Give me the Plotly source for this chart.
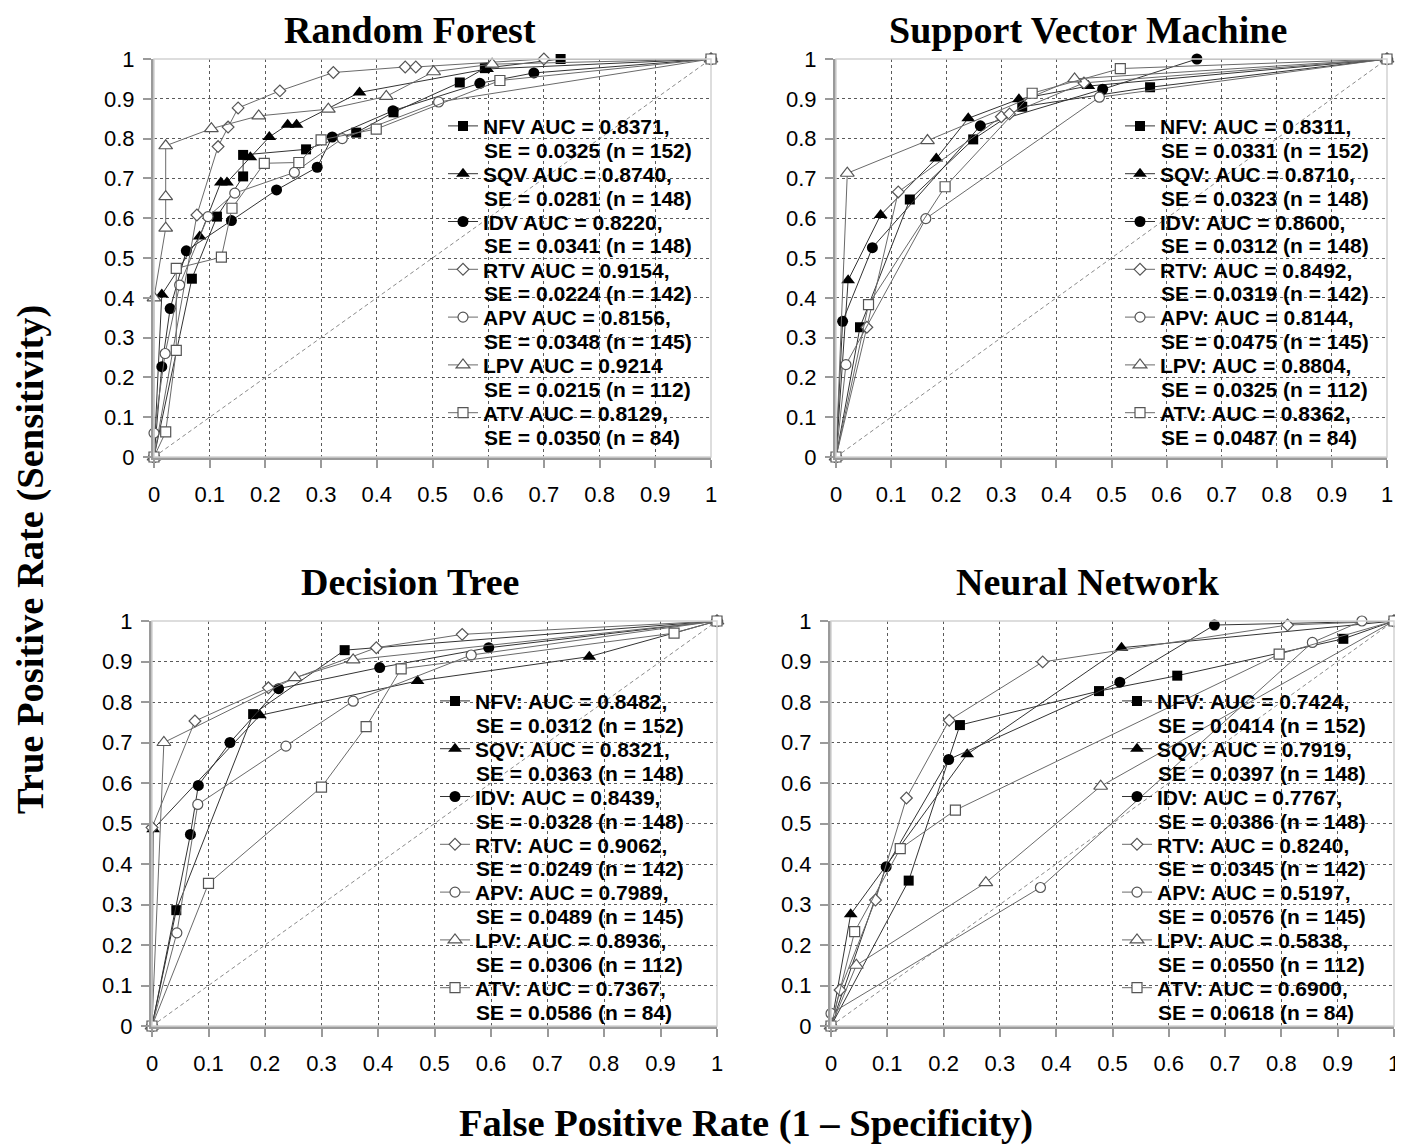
import plotly.graph_objects as go

# The page body has an 8px margin, so the figure is drawn from (8, 8)
OFF = 8
W, H = 1403 - OFF, 1148 - OFF

# ---------------- data ----------------
series_names = ["NFV", "SQV", "IDV", "RTV", "APV", "LPV", "ATV"]
chance_line = [0, 1]

# Random Forest
rf_fpr = {
    "NFV": [0, 0.068, 0.113, 0.16, 0.16, 0.273, 0.363, 0.43, 0.549, 0.594, 0.73, 1],
    "SQV": [0, 0.014, 0.082, 0.12, 0.131, 0.173, 0.207, 0.24, 0.256, 0.369, 0.598, 1],
    "IDV": [0, 0.014, 0.029, 0.058, 0.139, 0.22, 0.293, 0.32, 0.429, 0.585, 0.682, 1],
    "RTV": [0, 0.077, 0.115, 0.133, 0.151, 0.226, 0.322, 0.451, 0.47, 0.70, 1],
    "APV": [0, 0, 0.02, 0.046, 0.097, 0.145, 0.252, 0.338, 0.511, 1],
    "LPV": [0, 0, 0.021, 0.021, 0.021, 0.103, 0.188, 0.313, 0.417, 0.502, 0.607, 1],
    "ATV": [0, 0.021, 0.04, 0.04, 0.121, 0.14, 0.198, 0.26, 0.3, 0.399, 0.621, 1],
}
rf_tpr = {
    "NFV": [0, 0.448, 0.604, 0.705, 0.759, 0.773, 0.815, 0.866, 0.941, 0.977, 1.0, 1],
    "SQV": [0, 0.408, 0.554, 0.69, 0.69, 0.753, 0.804, 0.835, 0.835, 0.916, 0.975, 1],
    "IDV": [0, 0.227, 0.373, 0.518, 0.594, 0.671, 0.728, 0.804, 0.87, 0.939, 0.965, 1],
    "RTV": [0, 0.608, 0.78, 0.829, 0.877, 0.92, 0.966, 0.98, 0.98, 1.0, 1],
    "APV": [0, 0.06, 0.26, 0.432, 0.604, 0.663, 0.715, 0.8, 0.892, 1],
    "LPV": [0, 0.40, 0.575, 0.654, 0.782, 0.825, 0.857, 0.874, 0.906, 0.968, 0.987, 1],
    "ATV": [0, 0.063, 0.268, 0.474, 0.502, 0.625, 0.738, 0.74, 0.797, 0.824, 0.946, 1],
}
rf_label1 = ["NFV AUC = 0.8371,", "SQV AUC = 0.8740,", "IDV AUC = 0.8220,",
             "RTV AUC = 0.9154,", "APV AUC = 0.8156,", "LPV AUC = 0.9214",
             "ATV AUC = 0.8129,"]
rf_label2 = ["SE = 0.0325 (n = 152)", "SE = 0.0281 (n = 148)", "SE = 0.0341 (n = 148)",
             "SE = 0.0224 (n = 142)", "SE = 0.0348 (n = 145)", "SE = 0.0215 (n = 112)",
             "SE = 0.0350 (n = 84)"]

# Support Vector Machine
svm_fpr = {
    "NFV": [0, 0.0435, 0.134, 0.249, 0.338, 0.57, 1],
    "SQV": [0, 0.022, 0.081, 0.182, 0.24, 0.332, 0.458, 1],
    "IDV": [0, 0.012, 0.066, 0.262, 0.484, 0.655, 1],
    "RTV": [0, 0.056, 0.113, 0.30, 0.315, 0.45, 1],
    "APV": [0, 0.018, 0.163, 0.478, 1],
    "LPV": [0, 0.0205, 0.166, 0.433, 1],
    "ATV": [0, 0.059, 0.198, 0.356, 0.516, 1],
}
svm_tpr = {
    "NFV": [0, 0.326, 0.647, 0.798, 0.88, 0.929, 1],
    "SQV": [0, 0.444, 0.608, 0.75, 0.851, 0.899, 0.932, 1],
    "IDV": [0, 0.341, 0.526, 0.832, 0.924, 1.0, 1],
    "RTV": [0, 0.326, 0.666, 0.855, 0.862, 0.94, 1],
    "APV": [0, 0.232, 0.599, 0.904, 1],
    "LPV": [0, 0.713, 0.795, 0.95, 1],
    "ATV": [0, 0.383, 0.679, 0.914, 0.976, 1],
}
svm_label1 = ["NFV: AUC = 0.8311,", "SQV: AUC = 0.8710,", "IDV: AUC = 0.8600,",
              "RTV: AUC = 0.8492,", "APV: AUC = 0.8144,", "LPV: AUC = 0.8804,",
              "ATV: AUC = 0.8362,"]
svm_label2 = ["SE = 0.0331 (n = 152)", "SE = 0.0323 (n = 148)", "SE = 0.0312 (n = 148)",
              "SE = 0.0319 (n = 142)", "SE = 0.0475 (n = 145)", "SE = 0.0325 (n = 112)",
              "SE = 0.0487 (n = 84)"]

# Decision Tree
dt_fpr = {
    "NFV": [0, 0.043, 0.179, 0.341, 1],
    "SQV": [0, 0.002, 0.191, 0.47, 0.774, 1],
    "IDV": [0, 0.068, 0.082, 0.138, 0.224, 0.403, 0.596, 1],
    "RTV": [0, 0, 0.076, 0.206, 0.397, 0.549, 1],
    "APV": [0, 0.044, 0.081, 0.237, 0.356, 0.565, 1],
    "LPV": [0, 0.021, 0.253, 0.356, 1],
    "ATV": [0, 0.1, 0.3, 0.379, 0.441, 0.924, 1],
}
dt_tpr = {
    "NFV": [0, 0.286, 0.77, 0.928, 1],
    "SQV": [0, 0.486, 0.767, 0.852, 0.912, 1],
    "IDV": [0, 0.473, 0.594, 0.70, 0.833, 0.885, 0.934, 1],
    "RTV": [0, 0.49, 0.753, 0.835, 0.934, 0.967, 1],
    "APV": [0, 0.23, 0.547, 0.691, 0.802, 0.916, 1],
    "LPV": [0, 0.70, 0.86, 0.904, 1],
    "ATV": [0, 0.352, 0.59, 0.739, 0.882, 0.970, 1],
}
dt_label1 = ["NFV: AUC = 0.8482,", "SQV: AUC = 0.8321,", "IDV: AUC = 0.8439,",
             "RTV: AUC = 0.9062,", "APV: AUC = 0.7989,", "LPV: AUC = 0.8936,",
             "ATV: AUC = 0.7367,"]
dt_label2 = ["SE = 0.0312 (n = 152)", "SE = 0.0363 (n = 148)", "SE = 0.0328 (n = 148)",
             "SE = 0.0249 (n = 142)", "SE = 0.0489 (n = 145)", "SE = 0.0306 (n = 112)",
             "SE = 0.0586 (n = 84)"]

# Neural Network
nn_fpr = {
    "NFV": [0, 0.138, 0.229, 0.476, 0.615, 0.91, 1],
    "SQV": [0, 0.035, 0.242, 0.516, 1],
    "IDV": [0, 0.098, 0.209, 0.513, 0.681, 1],
    "RTV": [0, 0.016, 0.079, 0.134, 0.21, 0.376, 0.811, 1],
    "APV": [0, 0, 0.372, 0.855, 0.943, 1],
    "LPV": [0, 0.045, 0.275, 0.479, 1],
    "ATV": [0, 0.042, 0.123, 0.221, 0.796, 1],
}
nn_tpr = {
    "NFV": [0, 0.359, 0.743, 0.827, 0.865, 0.956, 1],
    "SQV": [0, 0.276, 0.671, 0.934, 1],
    "IDV": [0, 0.393, 0.658, 0.849, 0.99, 1],
    "RTV": [0, 0.089, 0.311, 0.563, 0.755, 0.899, 0.99, 1],
    "APV": [0, 0.031, 0.342, 0.947, 1.0, 1],
    "LPV": [0, 0.15, 0.354, 0.592, 1],
    "ATV": [0, 0.233, 0.438, 0.533, 0.918, 1],
}
nn_label1 = ["NFV: AUC = 0.7424,", "SQV: AUC = 0.7919,", "IDV: AUC = 0.7767,",
             "RTV: AUC = 0.8240,", "APV: AUC = 0.5197,", "LPV: AUC = 0.5838,",
             "ATV: AUC = 0.6900,"]
nn_label2 = ["SE = 0.0414 (n = 152)", "SE = 0.0397 (n = 148)", "SE = 0.0386 (n = 148)",
             "SE = 0.0345 (n = 142)", "SE = 0.0576 (n = 145)", "SE = 0.0550 (n = 112)",
             "SE = 0.0618 (n = 84)"]

panel_titles = ["Random Forest", "Support Vector Machine", "Decision Tree", "Neural Network"]
x_title = "False Positive Rate (1 \u2013 Specificity)"
y_title = "True Positive Rate (Sensitivity)"

# ---------------- styling ----------------
def px_x(p):
    return (p - OFF) / W

def px_y(p):
    return 1 - (p - OFF) / H

styles = {
    "NFV": dict(symbol="square", size=10, color="black", lc="black", lw=0, line="#333333"),
    "SQV": dict(symbol="triangle-up", size=12, color="black", lc="black", lw=0, line="#333333"),
    "IDV": dict(symbol="circle", size=11, color="black", lc="black", lw=0, line="#333333"),
    "RTV": dict(symbol="diamond", size=9, color="white", lc="#555555", lw=1.2, line="#6a6a6a"),
    "APV": dict(symbol="circle", size=10, color="white", lc="#555555", lw=1.2, line="#6a6a6a"),
    "LPV": dict(symbol="triangle-up", size=12, color="white", lc="#555555", lw=1.2, line="#6a6a6a"),
    "ATV": dict(symbol="square", size=10, color="white", lc="#555555", lw=1.2, line="#6a6a6a"),
}

# panel geometry in page pixels: (x0, x1, ytop, ybottom)
panels_px = [(154, 711, 59, 457), (836, 1387, 59, 457),
             (152, 717, 621, 1026), (831, 1394, 621, 1026)]
legend_left_px = [443, 1120, 435, 1117]
first_line_px = [126.5, 126.5, 701.5, 701.5]   # centre of first legend line
title_pos_px = [(410, 29.5), (1088, 29.5), (410, 582), (1088, 582)]

panel_data = [(rf_fpr, rf_tpr, rf_label1, rf_label2),
              (svm_fpr, svm_tpr, svm_label1, svm_label2),
              (dt_fpr, dt_tpr, dt_label1, dt_label2),
              (nn_fpr, nn_tpr, nn_label1, nn_label2)]

LEG_FS = 21
ITEM_H = LEG_FS * 1.3 + 3
ENTRY_SPACING = 47.8
LINE2_OFFSET = ENTRY_SPACING / 2
GAP = ENTRY_SPACING - ITEM_H

fig = go.Figure()
annotations = []
shapes = []
layout_extra = {}

tick_font = dict(family="Liberation Sans, Arial, sans-serif", size=22, color="black")
leg_font = dict(family="Liberation Sans, Arial, sans-serif", size=LEG_FS, color="black", weight="bold")

for k, (fpr, tpr, lab1, lab2) in enumerate(panel_data):
    sfx = "" if k == 0 else str(k + 1)
    xa, ya = "x" + sfx, "y" + sfx
    legname = "legend" + sfx
    x0, x1, yt, yb = panels_px[k]
    leg_top = first_line_px[k] - 5 - ITEM_H / 2 - 0.6

    # chance diagonal
    fig.add_trace(go.Scatter(
        x=chance_line, y=chance_line, mode="lines", xaxis=xa, yaxis=ya,
        line=dict(color="#8a8a8a", width=1, dash="4px,3px"),
        showlegend=False, hoverinfo="skip"))

    for i, s in enumerate(series_names):
        st = styles[s]
        fig.add_trace(go.Scatter(
            x=fpr[s], y=tpr[s], mode="lines+markers", name=lab1[i],
            xaxis=xa, yaxis=ya, legend=legname, legendgroup=f"{k}-{s}",
            cliponaxis=False,
            line=dict(color=st["line"], width=1),
            marker=dict(symbol=st["symbol"], size=st["size"], color=st["color"],
                        line=dict(color=st["lc"], width=st["lw"]))))
        # second line of the legend entry
        center = first_line_px[k] + i * ENTRY_SPACING + LINE2_OFFSET
        annotations.append(dict(
            x=px_x(legend_left_px[k] + 40), y=px_y(center), xref="paper", yref="paper",
            xanchor="left", yanchor="middle", showarrow=False, text=lab2[i],
            font=leg_font, borderpad=0))

    ax_common = dict(range=[0, 1], dtick=0.1, tick0=0, showgrid=True, gridcolor="#5a5a5a",
                     griddash="3px,3px", gridwidth=1, zeroline=False, showline=True,
                     linecolor="#9a9a9a", linewidth=3, ticks="outside", ticklen=8,
                     tickcolor="#9a9a9a", tickwidth=2, tickfont=tick_font,
                     automargin=False)
    layout_extra["xaxis" + sfx] = dict(ax_common, domain=[px_x(x0), px_x(x1)], anchor=ya,
                                       ticklabelstandoff=8)
    layout_extra["yaxis" + sfx] = dict(ax_common, domain=[px_y(yb), px_y(yt)], anchor=xa,
                                       ticklabelstandoff=4)
    layout_extra[legname] = dict(x=px_x(legend_left_px[k]), y=px_y(leg_top),
                                 xanchor="left", yanchor="top", bgcolor="rgba(0,0,0,0)",
                                 borderwidth=0, font=leg_font, traceorder="grouped",
                                 tracegroupgap=GAP, itemwidth=30)

    # light top/right border of plot area
    shapes.append(dict(type="rect", xref=xa + " domain", yref=ya + " domain",
                       x0=0, x1=1, y0=0, y1=1, layer="above",
                       line=dict(color="#d2d2d2", width=1.5)))

    tx, ty = title_pos_px[k]
    annotations.append(dict(
        x=px_x(tx), y=px_y(ty), xref="paper", yref="paper", xanchor="center",
        yanchor="middle", showarrow=False, text=panel_titles[k],
        font=dict(family="Liberation Serif, Times New Roman, serif", size=38,
                  color="black", weight="bold")))

title_font = dict(family="Liberation Serif, Times New Roman, serif", size=38.5,
                  color="black", weight="bold")
annotations.append(dict(x=px_x(746), y=px_y(1123), xref="paper", yref="paper",
                        xanchor="center", yanchor="middle", showarrow=False,
                        text=x_title, font=title_font))
annotations.append(dict(x=px_x(30), y=px_y(560), xref="paper", yref="paper",
                        xanchor="center", yanchor="middle", showarrow=False,
                        text=y_title, textangle=-90, font=title_font))

fig.update_layout(
    template="none",
    width=W, height=H, autosize=False,
    margin=dict(l=0, r=0, t=0, b=0, pad=0, autoexpand=False),
    paper_bgcolor="white", plot_bgcolor="white",
    annotations=annotations, shapes=shapes,
    **layout_extra)

fig.write_html("out.html")
